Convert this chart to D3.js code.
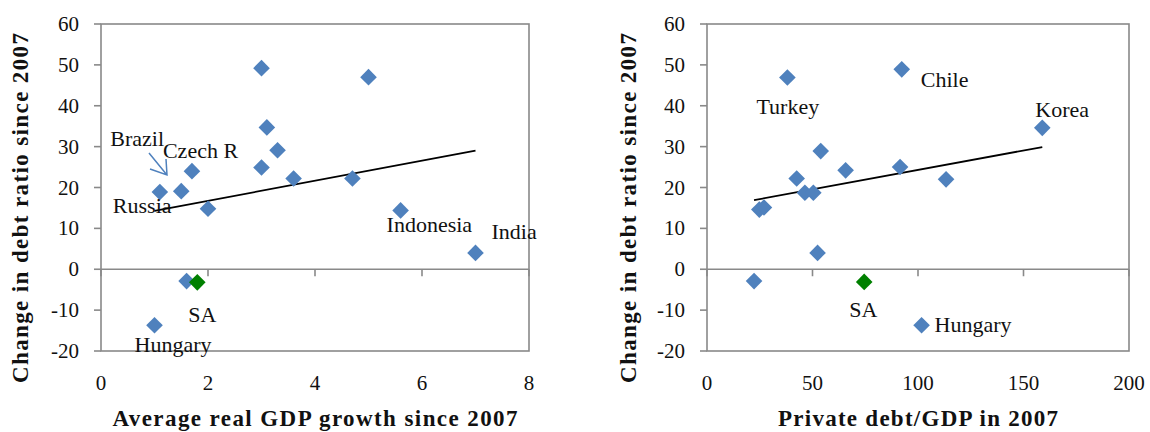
<!DOCTYPE html>
<html lang="en">
<head>
<meta charset="UTF-8">
<title>Debt ratio scatter</title>
<script src="https://d3js.org/d3.v7.min.js"></script>
<style>
  body { margin: 0; background: #fff; }
  text { font-family: "Liberation Serif", "Times New Roman", serif; fill: #111; }
  .tick-label { font-size: 21px; }
  .note { font-size: 22px; }
  .axis-title { font-size: 23px; font-weight: bold; }
</style>
</head>
<body>
<svg width="1150" height="432" id="chart"></svg>
<script>
// ---- data: left panel (GDP growth vs change in debt ratio)
const growthX = [3.0, 5.0, 3.1, 3.3, 3.0, 3.6, 4.7, 1.7, 1.1, 1.5, 2.0, 5.6, 7.0, 1.6, 1.0];
const growthY = [49.2, 47.0, 34.7, 29.1, 24.9, 22.2, 22.2, 24.0, 18.9, 19.1, 14.8, 14.4, 4.0, -2.9, -13.7];
const growthSA = [1.8, -3.2];
const growthTrend = [[1.0, 14.3], [7.0, 29.0]];

// ---- data: right panel (private debt vs change in debt ratio)
const privX = [38.1, 92.3, 158.9, 53.9, 42.5, 65.7, 91.5, 113.3, 46.4, 50.4, 24.8, 27.0, 52.4, 22.3, 101.7];
const privY = [46.9, 48.9, 34.6, 28.9, 22.2, 24.2, 25.0, 22.0, 18.7, 18.7, 14.6, 15.1, 4.0, -2.9, -13.7];
const privSA = [74.5, -3.1];
const privTrend = [[22.3, 16.9], [158.9, 29.9]];

const yTicks = [-20, -10, 0, 10, 20, 30, 40, 50, 60];
const growthTicks = [0, 2, 4, 6, 8];
const privTicks = [0, 50, 100, 150, 200];

// labels: [text, x value, y value, dx, dy] offsets in px from the point
const growthNotes = [
  ["Brazil", 1.5, 19.1, -71, -45],
  ["Czech R", 1.7, 24.0, -29, -13],
  ["Russia", 1.1, 18.9, -47, 21],
  ["Indonesia", 5.6, 14.4, -14, 22],
  ["India", 7.0, 4.0, 16, -14],
  ["SA", 1.8, -3.2, -9, 40],
  ["Hungary", 1.0, -13.7, -20, 27]
];
const privNotes = [
  ["Turkey", 38.1, 46.9, -31, 36],
  ["Chile", 92.3, 48.9, 19, 18],
  ["Korea", 158.9, 34.6, -7, -11],
  ["SA", 74.5, -3.1, -15, 35],
  ["Hungary", 101.7, -13.7, 13, 7]
];

const blue = '#4f81bd';
const green = '#008000';
const grey = '#898989';

const svg = d3.select('#chart');
const plotTop = 24, plotBottom = 351;

const drawPanel = (cfg) => {
  const x = d3.scaleLinear().domain(cfg.xDomain).range([cfg.left, cfg.right]);
  const y = d3.scaleLinear().domain([-20, 60]).range([plotBottom, plotTop]);
  const g = svg.append('g');

  // frame
  g.append('rect')
    .attr('x', cfg.left).attr('y', plotTop)
    .attr('width', cfg.right - cfg.left).attr('height', plotBottom - plotTop)
    .attr('fill', 'none').attr('stroke', grey).attr('stroke-width', 1.6);

  // y axis ticks + labels
  g.selectAll('.ytick').data(yTicks).enter().append('line')
    .attr('x1', cfg.left - 7).attr('x2', cfg.left)
    .attr('y1', d => y(d)).attr('y2', d => y(d))
    .attr('stroke', grey).attr('stroke-width', 1.6);
  g.selectAll('.ylab').data(yTicks).enter().append('text')
    .attr('class', 'tick-label')
    .attr('x', cfg.left - 22).attr('y', d => y(d) + 7)
    .attr('text-anchor', 'end')
    .text(d => d);

  // horizontal axis at zero, ticks below it
  g.append('line')
    .attr('x1', cfg.left).attr('x2', cfg.right)
    .attr('y1', y(0)).attr('y2', y(0))
    .attr('stroke', grey).attr('stroke-width', 1.6);
  g.selectAll('.xtick').data(cfg.xTicks).enter().append('line')
    .attr('x1', d => x(d)).attr('x2', d => x(d))
    .attr('y1', y(0)).attr('y2', y(0) + 7)
    .attr('stroke', grey).attr('stroke-width', 1.6);
  g.selectAll('.xlab').data(cfg.xTicks).enter().append('text')
    .attr('class', 'tick-label')
    .attr('x', d => x(d)).attr('y', 390)
    .attr('text-anchor', 'middle')
    .text(d => d);

  // trend line
  g.append('path')
    .datum(cfg.trend)
    .attr('d', d3.line().x(d => x(d[0])).y(d => y(d[1])))
    .attr('stroke', '#000').attr('stroke-width', 1.8).attr('fill', 'none');

  // markers
  const diamond = d3.symbol().type(d3.symbolSquare).size(138);
  g.selectAll('.pt').data(cfg.xs).enter().append('path')
    .attr('d', diamond)
    .attr('transform', (d, i) => `translate(${x(d)},${y(cfg.ys[i])}) rotate(45)`)
    .attr('fill', blue);
  g.append('path')
    .attr('d', diamond)
    .attr('transform', `translate(${x(cfg.sa[0])},${y(cfg.sa[1])}) rotate(45)`)
    .attr('fill', green);

  // notes
  g.selectAll('.note').data(cfg.notes).enter().append('text')
    .attr('class', 'note')
    .attr('x', d => x(d[1]) + d[3])
    .attr('y', d => y(d[2]) + d[4])
    .text(d => d[0]);

  // axis titles (the original font runs wider than Times, so stretch spacing a bit)
  g.append('text')
    .attr('class', 'axis-title')
    .attr('x', (cfg.left + cfg.right) / 2).attr('y', 426)
    .attr('text-anchor', 'middle')
    .attr('textLength', cfg.xTitleLen).attr('lengthAdjust', 'spacing')
    .text(cfg.xTitle);
  g.append('text')
    .attr('class', 'axis-title')
    .attr('transform', `translate(${cfg.left + cfg.yTitleDx},208) rotate(-90)`)
    .attr('text-anchor', 'middle')
    .attr('textLength', 350).attr('lengthAdjust', 'spacing')
    .text('Change in debt ratio since 2007');

  return { x, y, g };
};

const left = drawPanel({
  left: 101, right: 529, xDomain: [0, 8], xTicks: growthTicks,
  xs: growthX, ys: growthY, sa: growthSA, trend: growthTrend,
  notes: growthNotes, xTitle: 'Average real GDP growth since 2007',
  xTitleLen: 405, yTitleDx: -73
});

drawPanel({
  left: 707, right: 1129, xDomain: [0, 200], xTicks: privTicks,
  xs: privX, ys: privY, sa: privSA, trend: privTrend,
  notes: privNotes, xTitle: 'Private debt/GDP in 2007',
  xTitleLen: 280, yTitleDx: -71
});

// Brazil pointer arrow
const arrow = left.g.append('g').attr('stroke', blue).attr('stroke-width', 1.5).attr('fill', 'none');
arrow.append('path').attr('d', 'M149,153 L167,175 M150,169 L167,175 L166,159');
</script>
</body>
</html>
